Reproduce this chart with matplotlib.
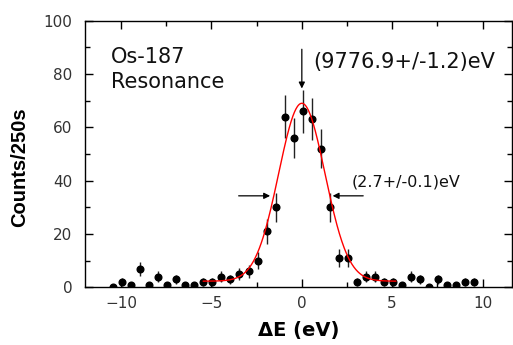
import numpy as np
import matplotlib
matplotlib.use("Agg")
from matplotlib import pyplot as plt
from matplotlib.ticker import MultipleLocator

plt.rcParams['font.family'] = ['DejaVu Sans']

# measured spectrum (energy offset in eV, counts per 250 s)
energy = [-10.45, -9.95, -9.45, -8.95, -8.45, -7.95, -7.45, -6.95, -6.45, -5.95,
          -5.45, -4.95, -4.45, -3.95, -3.45, -2.95, -2.45, -1.95, -1.45, -0.95,
          -0.45, 0.05, 0.55, 1.05, 1.55, 2.05, 2.55, 3.05, 3.55, 4.05,
          4.55, 5.05, 5.55, 6.05, 6.55, 7.05, 7.55, 8.05, 8.55, 9.05, 9.55]
counts = [0, 2, 1, 7, 1, 4, 1, 3, 1, 1,
          2, 2, 4, 3, 5, 6, 10, 21, 30, 64,
          56, 66, 63, 52, 30, 11, 11, 2, 4, 4,
          2, 2, 1, 4, 3, 0, 3, 1, 1, 2, 2]
errors = [0, 1.4, 1.0, 2.6, 1.0, 2.0, 1.0, 1.7, 1.0, 1.0,
          1.4, 1.4, 2.0, 1.7, 2.2, 2.4, 3.2, 4.6, 5.5, 8.0,
          7.5, 8.1, 7.9, 7.2, 5.5, 3.3, 3.3, 1.4, 2.0, 2.0,
          1.4, 1.4, 1.0, 2.0, 1.7, 0, 1.7, 1.0, 1.0, 1.4, 1.4]

# gaussian fit parameters
fit_amp = 66.7
fit_center = 0.0
fit_sigma = 1.28
fit_base = 2.3
fit_range = (-5.45, 5.2)

fig = plt.figure(figsize=(5.13, 3.45), dpi=100)
ax = fig.add_axes([0.1657, 0.1672, 0.8323, 0.7731])

ax.errorbar(energy, counts, yerr=errors, fmt='o', color='black', ms=4.8,
            ecolor='#222222', elinewidth=1.0, capsize=0, zorder=3)

xf = np.linspace(fit_range[0], fit_range[1], 400)
yf = fit_base + fit_amp * np.exp(-(xf - fit_center) ** 2 / (2 * fit_sigma ** 2))
ax.plot(xf, yf, color='red', lw=1.0, zorder=4)

ax.set_xlim(-12, 11.63)
ax.set_ylim(0, 100)
ax.xaxis.set_major_locator(MultipleLocator(5))
ax.xaxis.set_minor_locator(MultipleLocator(2.5))
ax.yaxis.set_major_locator(MultipleLocator(20))
ax.yaxis.set_minor_locator(MultipleLocator(10))
ax.tick_params(which='both', direction='in', top=True, right=True,
               labelsize=11, labelcolor='#333333', width=1.0)
ax.tick_params(which='major', length=5.5)
ax.tick_params(which='minor', length=3.5)
ax.tick_params(axis='y', pad=9)
ax.tick_params(axis='x', pad=6)
for s in ax.spines.values():
    s.set_linewidth(1.0)

ax.set_xlabel('ΔE (eV)', fontsize=14, fontweight='bold')
ax.set_ylabel('Counts/250s', fontsize=14.5, fontweight='bold',
              family='Liberation Sans')
ax.xaxis.set_label_coords(0.5, -0.125)
ax.yaxis.set_label_coords(-0.13, 0.45)

ax.text(-10.55, 90, 'Os-187\nResonance', fontsize=15, va='top', ha='left',
        linespacing=1.28, color='#111111')
ax.text(0.65, 84.5, '(9776.9+/-1.2)eV', fontsize=15, va='center', ha='left',
        color='#111111')
ax.text(2.75, 39.5, '(2.7+/-0.1)eV', fontsize=11.5, va='center', ha='left',
        color='#111111')

arrow = dict(arrowstyle='-|>', color='black', lw=0.9, mutation_scale=9)
ax.annotate('', xy=(0, 73.5), xytext=(0, 90.3), arrowprops=arrow)
ax.annotate('', xy=(-1.6, 34.3), xytext=(-3.65, 34.3), arrowprops=arrow)
ax.annotate('', xy=(1.55, 34.3), xytext=(3.55, 34.3), arrowprops=arrow)

fig.savefig('out.png', dpi=100)
